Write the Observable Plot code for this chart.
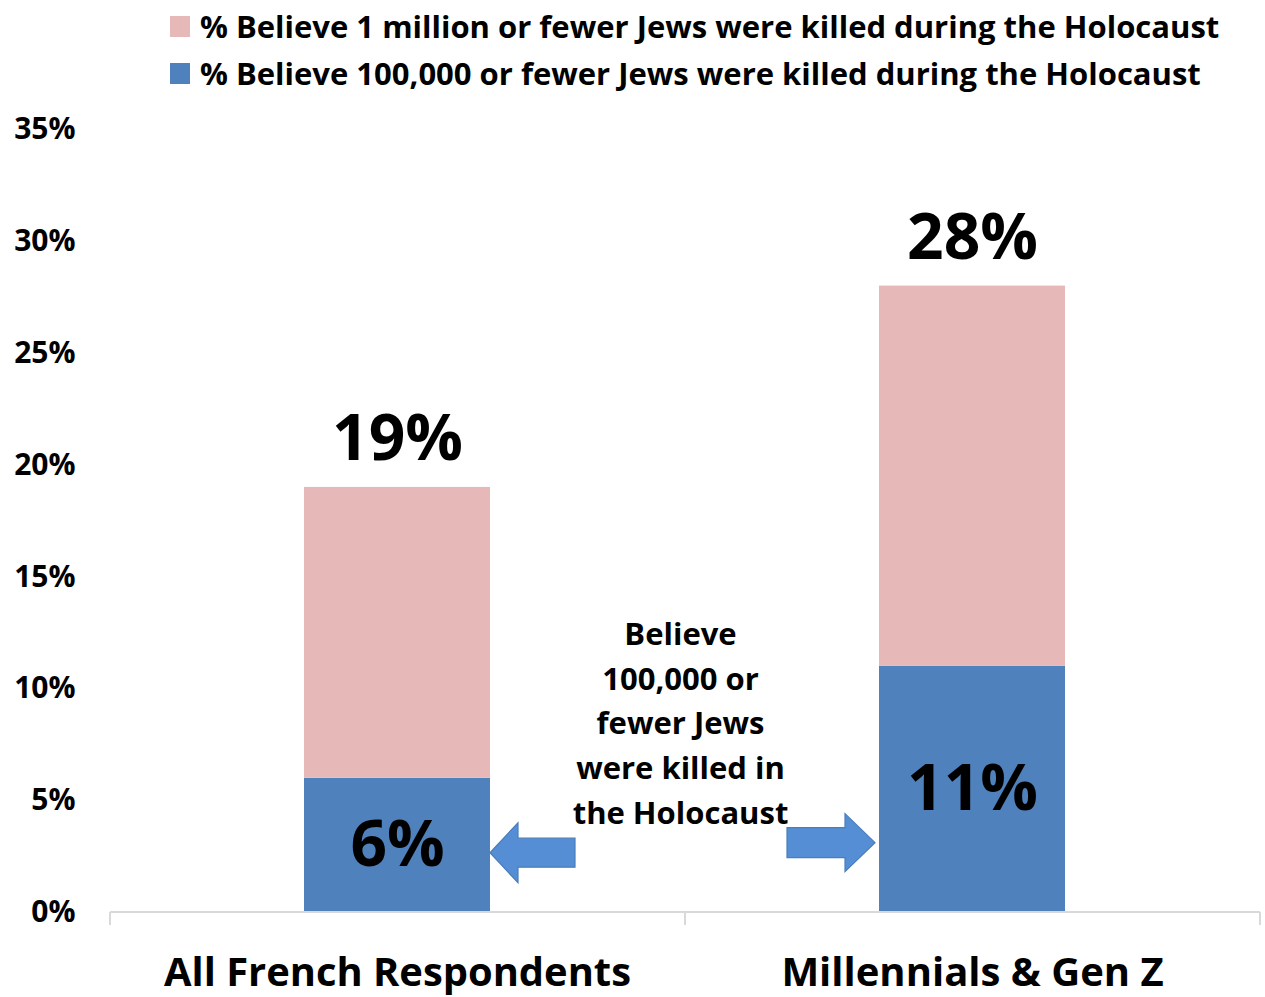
<!DOCTYPE html>
<html>
<head>
<meta charset="utf-8">
<script src="https://cdn.jsdelivr.net/npm/d3@7"></script>
<script src="https://cdn.jsdelivr.net/npm/@observablehq/plot@0.6"></script>
<style>
  html, body { margin: 0; padding: 0; background: #fff; }
  #wrap { position: relative; width: 1265px; height: 997px; font-family: "Open Sans", sans-serif; }
  #legend { position: relative; height: 100px; }
  .row { position: absolute; left: 170px; height: 36px; display: flex; align-items: center; font-weight: bold; font-size: 31px; color: #000; white-space: nowrap; }
  .sw { width: 20px; height: 21px; margin-right: 10px; flex: none; }
</style>
</head>
<body>
<div id="wrap">
  <div id="legend"></div>
  <div id="chart"></div>
</div>
<script>
// ---- data ----
const categories = ["All French Respondents", "Millennials & Gen Z"];
const millionOrFewer = [19, 28];   // % believe 1 million or fewer
const hundredKOrFewer = [6, 11];   // % believe 100,000 or fewer
const yTicks = [0, 5, 10, 15, 20, 25, 30, 35];
const seriesNames = [
  "% Believe 1 million or fewer Jews were killed during the Holocaust",
  "% Believe 100,000 or fewer Jews were killed during the Holocaust"
];
const seriesColors = ["#e6b9b8", "#4f81bd"];
const annotation = "Believe\n100,000 or\nfewer Jews\nwere killed in\nthe Holocaust";
const annotationLevel = [8.6];
const arrowLevels = [2.65, 3.1];

// ---- legend ----
const legend = document.getElementById("legend");
seriesNames.forEach((name, i) => {
  const row = document.createElement("div");
  row.className = "row";
  row.style.top = (i === 0 ? 8 : 55) + "px";
  const sw = document.createElement("div");
  sw.className = "sw";
  sw.style.background = seriesColors[i];
  const t = document.createElement("span");
  t.textContent = name;
  row.appendChild(sw); row.appendChild(t);
  legend.appendChild(row);
});

const rows = categories.map((c, i) => ({cat: c, total: millionOrFewer[i], low: hundredKOrFewer[i]}));

// custom baseline + ticks
function baseline(index, scales, values, dim) {
  const g = d3.create("svg:g");
  const x0 = dim.marginLeft, x1 = dim.width - dim.marginRight;
  const y0 = scales.y(0);
  g.append("line").attr("x1", x0).attr("x2", x1).attr("y1", y0).attr("y2", y0)
    .attr("stroke", "#d9d9d9").attr("stroke-width", 2);
  const step = (x1 - x0) / categories.length;
  const bounds = [x0];
  categories.forEach((c, i) => bounds.push(x0 + step * (i + 1)));
  bounds.forEach(b => g.append("line").attr("x1", b).attr("x2", b).attr("y1", y0).attr("y2", y0 + 13)
    .attr("stroke", "#d9d9d9").attr("stroke-width", 2));
  return g.node();
}

// arrows pointing from annotation to bars
function arrows(index, scales, values, dim) {
  const g = d3.create("svg:g");
  const bw = scales.x.bandwidth();
  const specs = [
    {tip: scales.x(categories[0]) + bw, dir: 1, y: scales.y(arrowLevels[0]), len: 85, head: 28, hh: 30, sh: 14.5},
    {tip: scales.x(categories[1]) - 4, dir: -1, y: scales.y(arrowLevels[1]), len: 88, head: 30, hh: 29, sh: 15}
  ];
  specs.forEach(s => {
    const d = s.dir;
    const pts = [
      [s.tip, s.y],
      [s.tip + d * s.head, s.y - s.hh],
      [s.tip + d * s.head, s.y - s.sh],
      [s.tip + d * s.len, s.y - s.sh],
      [s.tip + d * s.len, s.y + s.sh],
      [s.tip + d * s.head, s.y + s.sh],
      [s.tip + d * s.head, s.y + s.hh]
    ];
    g.append("polygon").attr("points", pts.map(p => p.join(",")).join(" "))
      .attr("fill", "#558ed5").attr("stroke", "#4a7ebb").attr("stroke-width", 1.2);
  });
  return g.node();
}

const chart = Plot.plot({
  width: 1265,
  height: 897,
  marginTop: 29,
  marginBottom: 85,
  marginLeft: 110,
  marginRight: 5,
  style: {fontFamily: "'Open Sans', sans-serif", background: "#fff", overflow: "visible"},
  x: {domain: categories, paddingInner: 0.6765, paddingOuter: 0.338, axis: null, label: null},
  y: {domain: [0, 35], axis: null, label: null},
  marks: [
    Plot.axisY({ticks: yTicks, tickSize: 0, tickPadding: 35, tickFormat: d => d + "%", fontSize: 30, fontWeight: "bold", fill: "#000", label: null}),
    Plot.axisX({tickSize: 0, tickPadding: 45, fontSize: 40, fontWeight: "bold", fill: "#000", label: null}),
    Plot.barY(rows, {x: "cat", y1: 0, y2: "low", fill: seriesColors[1], inset: 0}),
    Plot.barY(rows, {x: "cat", y1: "low", y2: "total", fill: seriesColors[0], inset: 0}),
    baseline,
    Plot.text(rows, {x: "cat", y: "total", text: d => d.total + "%", dy: -48, lineAnchor: "middle", fontSize: 64, fontWeight: "bold", fill: "#000"}),
    Plot.text(rows, {x: "cat", y: d => d.low / 2, text: d => d.low + "%", lineAnchor: "middle", fontSize: 64, fontWeight: "bold", fill: "#000"}),
    Plot.text(annotationLevel, {y: d => d, frameAnchor: "middle", dx: -5, text: () => annotation, lineAnchor: "middle", lineHeight: 1.45, fontSize: 31, fontWeight: "bold", fill: "#000"}),
    arrows
  ]
});
document.getElementById("chart").appendChild(chart);

// compress the category labels like the original condensed type
const targetW = [467, 388];
d3.select(chart).selectAll("g[aria-label='x-axis tick label'] text").each(function(d, i) {
  const w = this.getComputedTextLength();
  if (targetW[i] && w > targetW[i]) {
    this.setAttribute("textLength", targetW[i]);
    this.setAttribute("lengthAdjust", "spacingAndGlyphs");
  }
});
</script>
</body>
</html>
